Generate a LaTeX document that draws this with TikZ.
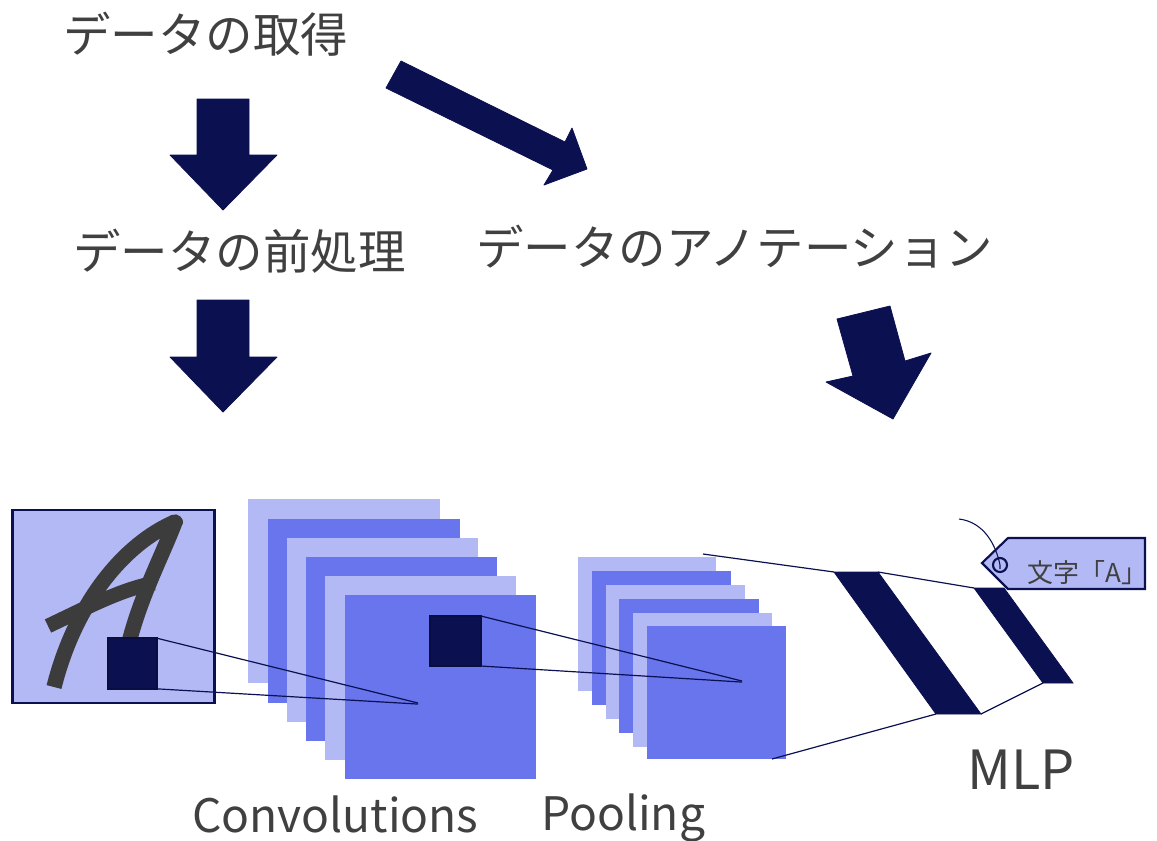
\documentclass[tikz,border=0pt]{standalone}
\usepackage{fontspec}
\newfontfamily\jp{Noto Sans CJK JP}
\definecolor{navy}{HTML}{0B1050}
\definecolor{lav}{HTML}{B2B9F5}
\definecolor{med}{HTML}{6875EC}
\definecolor{txt}{HTML}{404040}
\definecolor{ink}{HTML}{3C3C3C}
\begin{document}
\begin{tikzpicture}[x=0.75pt,y=-0.75pt,
  jptext/.style={anchor=base west,inner sep=0pt,text=txt,font=\jp\fontsize{35.6pt}{40pt}\selectfont},
  lattext/.style={anchor=base west,inner sep=0pt,text=txt,font=\jp\fontsize{34.6pt}{40pt}\selectfont},
  tagtext/.style={anchor=west,inner sep=0pt,text=txt,font=\jp\fontsize{19.5pt}{22pt}\selectfont},
  blockarrow/.style={fill=navy,draw=navy,line width=0.6pt,line join=round},
  kernel/.style={fill=navy,draw=navy!80!black,line width=1.2pt,inner sep=0pt,outer sep=0pt},
  link/.style={draw=navy,line width=0.9pt},
  lightsq/.style={fill=lav},
  medsq/.style={fill=med},
  stroke/.style={draw=ink,line width=11.5pt}
]
\useasboundingbox (0,0) rectangle (1157,840);

% ---- texts
\node[jptext] (get) at (63,52) {データの取得};
\node[jptext] (pre) at (73,269) {データの前処理};
\node[jptext] (ann) at (476,265) {データのアノテーション};
\node[lattext] (conv) at (192,832) {Convolutions};
\node[lattext] (pool) at (541,830) {Pooling};
\node[lattext,font=\jp\fontsize{40.5pt}{44pt}\selectfont] (mlp) at (967,789) {MLP};

% ---- block arrows
\fill[blockarrow] (197,99) -- (249,99) -- (249,155) -- (277,155) -- (223,210) -- (170,155) -- (197,155) -- cycle;
\fill[blockarrow] (197,300) -- (249,300) -- (249,357) -- (277,357) -- (223,412) -- (170,357) -- (197,357) -- cycle;
\fill[blockarrow] (401,61) -- (565,142) -- (572,128) -- (587,169) -- (544,185) -- (553,170) -- (386,88) -- cycle;
\fill[blockarrow] (837,319) -- (890,306) -- (905,361) -- (931,353) -- (893,419) -- (826,382) -- (853,376) -- cycle;

% ---- input image
\filldraw[fill=lav,draw=navy,line width=1.6pt] (12.5,510) rectangle (214.5,703);
\draw[stroke,line cap=butt,line join=round] (54,687) .. controls (76,600) and (126,543) .. (175,522)
   .. controls (160,562) and (130,615) .. (122,679);
\draw[ink,line width=9pt,line cap=round] (173,521) -- (177,522);
\draw[ink,line width=11pt] (48,626) .. controls (90,606) and (120,590) .. (154,583);
\node[kernel,minimum width=36.5pt,minimum height=38pt] (k1) at (132.5,663.5) {};

% ---- convolution stack
\fill[lightsq] (248,499) rectangle (440,683);
\fill[medsq]   (268,519) rectangle (460,703);
\fill[lightsq] (287,538) rectangle (478,722);
\fill[medsq]   (306,557) rectangle (497,741);
\fill[lightsq] (325,576) rectangle (516,760);
\fill[medsq]   (345,595) rectangle (536,779);
\node[kernel,minimum width=38pt,minimum height=37.5pt] (k2) at (455.5,641) {};

% ---- pooling stack
\fill[lightsq] (578,557) rectangle (716,691);
\fill[medsq]   (592,571) rectangle (731,705);
\fill[lightsq] (606,585) rectangle (745,719);
\fill[medsq]   (619,599) rectangle (759,733);
\fill[lightsq] (633,613) rectangle (772,747);
\fill[medsq]   (647,626) rectangle (786,759);

% ---- MLP
\coordinate (m1a) at (834,572); \coordinate (m1b) at (878,572);
\coordinate (m1c) at (981,714); \coordinate (m1d) at (936,714);
\coordinate (m2a) at (974,588); \coordinate (m2b) at (1004,588);
\coordinate (m2c) at (1073,683); \coordinate (m2d) at (1043,683);
\filldraw[fill=navy,draw=navy,line width=0.6pt] (m1a) -- (m1b) -- (m1c) -- (m1d) -- cycle;
\filldraw[fill=navy,draw=navy,line width=0.6pt] (m2a) -- (m2b) -- (m2c) -- (m2d) -- cycle;

% ---- connector lines
\coordinate (cv1) at (418,703);
\coordinate (cv2) at (742,681);
\coordinate (pt) at (703,554);
\coordinate (pb) at (772,759);
\draw[link] (k1.north east) -- (cv1);
\draw[link] (k1.south east) -- ([yshift=-0.8pt]cv1);
\draw[link] (k2.north east) -- (cv2);
\draw[link] (k2.south east) -- ([yshift=-0.8pt]cv2);
\draw[link] (pt) -- (m1a);
\draw[link] (m1b) -- (m2a);
\draw[link] (pb) -- (m1d);
\draw[link] (m1c) -- (m2d);

% ---- tag
\filldraw[fill=lav,draw=navy,line width=1.6pt,line join=miter] (982,563) -- (1008,538) -- (1145,538) -- (1145,589) -- (1008,589) -- cycle;
\node[tagtext] (lab) at (1027,573) {文字「A」};
\node[circle,draw=navy,line width=1.6pt,fill=lav,minimum size=10.5pt,inner sep=0pt] (hole) at (1000,565) {};
\coordinate (str) at (959,519);
\draw[navy,line width=0.8pt] (str) .. controls (984,522) and (996,545) .. (hole.center) -- ([yshift=-3pt]hole.center);
\end{tikzpicture}
\end{document}
